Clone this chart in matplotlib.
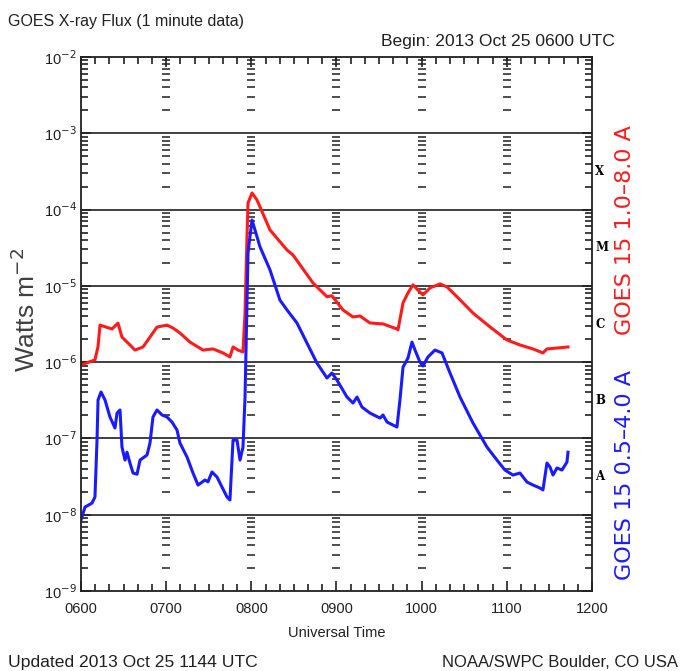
#=====================================================================================
#                                       IMPORTS
#-------------------------------------------------------------------------------------
import numpy as np
import matplotlib
matplotlib.use('Agg')
import matplotlib.pyplot as plt
from matplotlib.ticker import FixedLocator, NullFormatter

#=====================================================================================
#                                       DATA
#-------------------------------------------------------------------------------------
# GOES 15 long channel (1.0-8.0 A), time in UT hours, flux in W m^-2
t_long = [6.00, 6.164, 6.20, 6.223, 6.364, 6.434, 6.481, 6.552, 6.634, 6.728, 6.810,
          6.892, 7.010, 7.080, 7.162, 7.280, 7.432, 7.550, 7.667, 7.749, 7.785, 7.843,
          7.902, 7.926, 7.949, 7.961, 8.008, 8.066, 8.219, 8.419, 8.489, 8.724, 8.888,
          8.947, 9.076, 9.194, 9.276, 9.393, 9.546, 9.710, 9.722, 9.781, 9.839, 9.898,
          9.957, 10.015, 10.098, 10.215, 10.297, 10.415, 10.603, 10.802, 11.002, 11.154,
          11.307, 11.424, 11.471, 11.589, 11.718]
f_long = [0.92e-6, 1.07e-6, 1.6e-6, 3.06e-6, 2.72e-6, 3.25e-6, 2.13e-6, 1.78e-6, 1.44e-6,
          1.58e-6, 2.13e-6, 2.88e-6, 3.06e-6, 2.80e-6, 2.41e-6, 1.83e-6, 1.44e-6, 1.49e-6,
          1.32e-6, 1.17e-6, 1.58e-6, 1.44e-6, 1.36e-6, 4.4e-6, 4.4e-5, 1.22e-4, 1.65e-4,
          1.34e-4, 5.4e-5, 2.95e-5, 2.54e-5, 1.09e-5, 7.2e-6, 7.4e-6, 4.83e-6, 3.91e-6,
          4.03e-6, 3.26e-6, 3.17e-6, 2.72e-6, 2.65e-6, 5.97e-6, 8.07e-6, 1.03e-5, 8.8e-6,
          7.6e-6, 9.4e-6, 1.06e-5, 9.7e-6, 7.2e-6, 4.4e-6, 2.9e-6, 1.95e-6, 1.68e-6,
          1.49e-6, 1.32e-6, 1.49e-6, 1.53e-6, 1.58e-6]

# GOES 15 short channel (0.5-4.0 A)
t_short = [6.00, 6.047, 6.129, 6.164, 6.188, 6.200, 6.235, 6.282, 6.340, 6.399, 6.423,
           6.458, 6.481, 6.517, 6.540, 6.575, 6.611, 6.658, 6.693, 6.775, 6.810, 6.845,
           6.892, 6.951, 7.010, 7.068, 7.127, 7.162, 7.245, 7.315, 7.374, 7.456, 7.491,
           7.538, 7.597, 7.655, 7.714, 7.749, 7.785, 7.832, 7.867, 7.902, 7.926, 7.949,
           7.961, 8.008, 8.043, 8.102, 8.219, 8.336, 8.419, 8.536, 8.653, 8.771, 8.888,
           8.947, 9.006, 9.123, 9.194, 9.241, 9.299, 9.393, 9.511, 9.546, 9.593, 9.710,
           9.745, 9.781, 9.839, 9.886, 9.922, 9.980, 10.015, 10.074, 10.156, 10.239,
           10.333, 10.450, 10.603, 10.767, 10.884, 10.978, 11.072, 11.154, 11.237,
           11.307, 11.389, 11.424, 11.471, 11.507, 11.542, 11.589, 11.647, 11.706, 11.718]
f_short = [0.85e-8, 1.26e-8, 1.42e-8, 1.71e-8, 0.95e-7, 3.19e-7, 4.06e-7, 3.19e-7, 1.91e-7,
           1.37e-7, 2.15e-7, 2.36e-7, 7.7e-8, 5.2e-8, 6.6e-8, 4.76e-8, 3.52e-8, 3.4e-8,
           5.2e-8, 6.06e-8, 8.7e-8, 1.91e-7, 2.36e-7, 2.03e-7, 1.91e-7, 1.64e-7, 1.29e-7,
           8.7e-8, 5.7e-8, 3.52e-8, 2.45e-8, 2.85e-8, 2.7e-8, 3.63e-8, 3.12e-8, 2.31e-8,
           1.71e-8, 1.56e-8, 0.95e-7, 0.95e-7, 5.2e-8, 7.7e-8, 3.49e-7, 5.97e-6, 2.7e-5,
           7.3e-5, 5.4e-5, 3.24e-5, 1.62e-5, 6.5e-6, 4.83e-6, 3.26e-6, 1.78e-6, 0.97e-6,
           6.2e-7, 7.2e-7, 5.8e-7, 3.49e-7, 2.91e-7, 3.49e-7, 2.58e-7, 2.15e-7, 1.85e-7,
           2.03e-7, 1.64e-7, 1.41e-7, 3.19e-7, 8.6e-7, 1.13e-6, 1.83e-6, 1.44e-6, 1.0e-6,
           0.89e-6, 1.17e-6, 1.44e-6, 1.32e-6, 7.2e-7, 3.49e-7, 1.59e-7, 7.7e-8, 5.2e-8,
           3.85e-8, 3.31e-8, 3.52e-8, 2.68e-8, 2.45e-8, 2.24e-8, 2.11e-8, 4.76e-8, 4.22e-8,
           3.31e-8, 4.1e-8, 3.85e-8, 4.9e-8, 6.6e-8]

hours = [6, 7, 8, 9, 10, 11, 12]
hour_labels = ['0600', '0700', '0800', '0900', '1000', '1100', '1200']
decades = [1e-9, 1e-8, 1e-7, 1e-6, 1e-5, 1e-4, 1e-3, 1e-2]
classes = ['A', 'B', 'C', 'M', 'X']
class_pos = [10**-7.5, 10**-6.5, 10**-5.5, 10**-4.5, 10**-3.5]

#=====================================================================================
#                                       PLOT
#-------------------------------------------------------------------------------------
plt.rcParams['font.family'] = ['Liberation Sans', 'DejaVu Sans']
fig = plt.figure(figsize=[6.92, 6.71], dpi=100)
ax = fig.add_axes([81/692, 1-591/671, 511/692, 534/671])

red = '#ff1a1a'
blue = '#1a1aff'
ax.plot(t_long, f_long, color=red, lw=2.2)
ax.plot(t_short, f_short, color=blue, lw=2.2)

ax.set_yscale('log')
ax.set_xlim(6, 12)
ax.set_ylim(1e-9, 1e-2)

# decade lines
for d in decades[1:-1]:
    ax.axhline(d, color='#202020', lw=1.2, zorder=1)

# minor y ticks (2..9 in each decade) drawn along each interior hour
minors = [m*d for d in decades[:-1] for m in range(2, 10)]
for h in hours[1:-1]:
    ax.plot(np.full(len(minors), h), minors, ls='none', marker='_', ms=5.5,
            mew=1.2, color='#303030', zorder=1)
    ax.plot([h], [1e-2], ls='none', marker='|', ms=5, mew=1.3, color='#202020')

# axis ticks
ax.set_xticks(hours)
ax.set_xticklabels(hour_labels)
ax.xaxis.set_minor_locator(FixedLocator(np.arange(6, 12.01, 1/6)))
ax.set_yticks(decades)
ax.set_yticklabels([r'10$^{%d}$' % int(np.log10(d)) for d in decades])
ax.yaxis.set_minor_locator(FixedLocator(minors))
ax.yaxis.set_minor_formatter(NullFormatter())
ax.tick_params(which='both', direction='in', top=True, right=True, color='#202020')
ax.tick_params(which='major', length=7, width=1.2, labelsize=10.5, labelcolor='#202020')
ax.tick_params(which='minor', length=5, width=1.2)
ax.tick_params(axis='x', which='major', pad=8)
ax.tick_params(axis='y', which='major', pad=3)
for s in ax.spines.values():
    s.set_linewidth(1.3)
    s.set_color('#202020')

ax.set_xlabel('Universal Time', fontsize=10.5, labelpad=7, color='#202020')
fig.text(26/692, 1-310/671, r'Watts m$^{-2}$', rotation=90, ha='center', va='center',
         fontsize=19, color='#404040')

# flare classes on right
for c, p in zip(classes, class_pos):
    ax.text(1.006, p, c, transform=ax.get_yaxis_transform(), ha='left', va='center',
            fontsize=8.5, fontweight='bold', family='DejaVu Serif')

# channel labels
fig.text(625/692, 1-230/671, 'GOES 15 1.0\u20138.0 A', rotation=90, color=red,
         ha='center', va='center', fontsize=16, family='DejaVu Sans')
fig.text(625/692, 1-475/671, 'GOES 15 0.5\u20134.0 A', rotation=90, color=blue,
         ha='center', va='center', fontsize=16, family='DejaVu Sans')

# titles and footers
fig.text(8/692, 1-26/671, 'GOES X-ray Flux (1 minute data)', ha='left', va='baseline',
         fontsize=11.5, color='#202020')
fig.text(615/692, 1-46/671, 'Begin: 2013 Oct 25 0600 UTC', ha='right', va='baseline',
         fontsize=12.6, color='#202020')
fig.text(8/692, 1-667/671, 'Updated 2013 Oct 25 1144 UTC', ha='left', va='baseline',
         fontsize=12.6, color='#202020')
fig.text(678/692, 1-667/671, 'NOAA/SWPC Boulder, CO USA', ha='right', va='baseline',
         fontsize=12, color='#202020')

plt.savefig('out.png', dpi=100)
